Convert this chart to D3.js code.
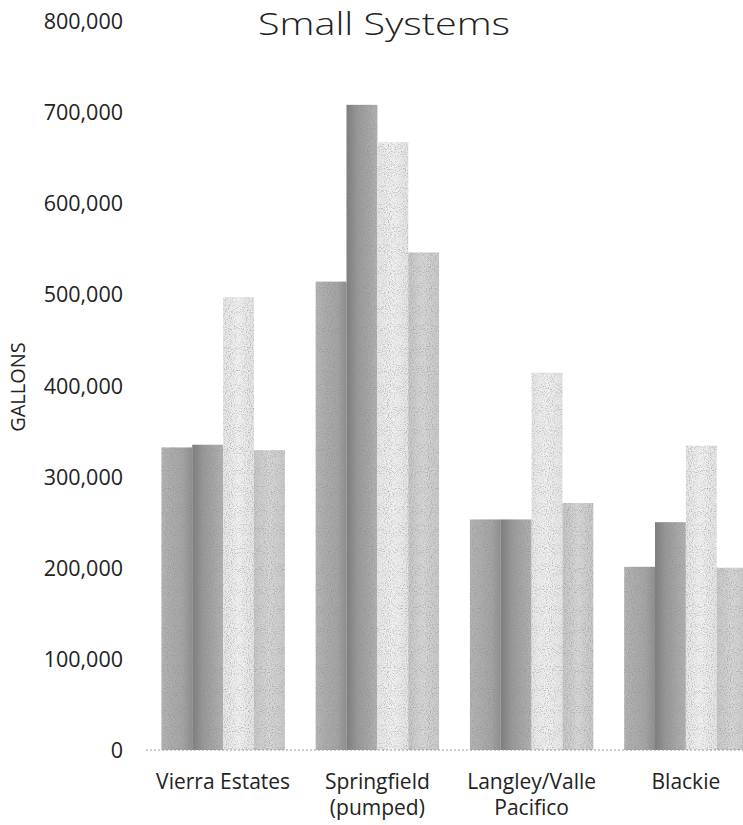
<!DOCTYPE html>
<html>
<head>
<meta charset="utf-8">
<script src="https://cdn.jsdelivr.net/npm/d3@7"></script>
<style>
  html, body { margin: 0; padding: 0; background: #fff; }
  svg { display: block; }
</style>
</head>
<body>
<div id="chart"></div>
<script>
// ---- data ----
const categories = ["Vierra Estates", "Springfield\n(pumped)", "Langley/Valle\nPacifico", "Blackie"];
const seriesNames = ["Series 1", "Series 2", "Series 3", "Series 4"];
const series1 = [332000, 514000, 253000, 201000];
const series2 = [335000, 708000, 253000, 250000];
const series3 = [497000, 667000, 414000, 334000];
const series4 = [329000, 546000, 271000, 200000];
const yTicks = [0, 100000, 200000, 300000, 400000, 500000, 600000, 700000, 800000];
const titleText = "Small Systems";
const yAxisTitle = "GALLONS";

const allSeries = [series1, series2, series3, series4];

// ---- layout ----
const W = 743, H = 825;
const svg = d3.select("#chart").append("svg").attr("width", W).attr("height", H);
const defs = svg.append("defs");

const x = d3.scaleBand().domain(categories).range([146, 763]).paddingInner(0.2).paddingOuter(0.1);
const xi = d3.scaleBand().domain(seriesNames).range([0, x.bandwidth()]);
const y = d3.scaleLinear().domain([0, 800000]).range([750, 21]);

// gradients imitating the scanned shading
const grads = [
  [["0%", "#b4b4b4"], ["70%", "#a4a4a4"], ["100%", "#8e8e8e"]],
  [["0%", "#7c7c7c"], ["35%", "#989898"], ["100%", "#b2b2b2"]],
  [["0%", "#e6e6e6"], ["50%", "#f0f0f0"], ["100%", "#e4e4e4"]],
  [["0%", "#c6c6c6"], ["50%", "#d6d6d6"], ["100%", "#c8c8c8"]]
];
grads.forEach((stops, i) => {
  const g = defs.append("linearGradient").attr("id", "g" + i)
    .attr("x1", "0%").attr("x2", "100%").attr("y1", "0%").attr("y2", "0%");
  stops.forEach(s => g.append("stop").attr("offset", s[0]).attr("stop-color", s[1]));
});

// grain filter
const f = defs.append("filter").attr("id", "grain").attr("x", 0).attr("y", 0).attr("width", 1).attr("height", 1);
f.append("feTurbulence").attr("type", "fractalNoise").attr("baseFrequency", 0.95).attr("numOctaves", 1).attr("seed", 4).attr("result", "noise");
f.append("feColorMatrix").attr("in", "noise").attr("type", "matrix")
  .attr("values", "0 0 0 0 0.25  0 0 0 0 0.25  0 0 0 0 0.25  -2.2 0 0 0 1.15").attr("result", "dots");
f.append("feComposite").attr("in", "dots").attr("in2", "SourceGraphic").attr("operator", "in").attr("result", "dotsIn");
const m = f.append("feMerge");
m.append("feMergeNode").attr("in", "SourceGraphic");
m.append("feMergeNode").attr("in", "dotsIn");

// title
svg.append("text").attr("x", 384).attr("y", 35).attr("text-anchor", "middle")
  .style("font-family", "'Open Sans'").style("font-weight", 300).style("font-size", "32px").attr("fill", "#222")
  .attr("textLength", 252).attr("lengthAdjust", "spacingAndGlyphs")
  .text(titleText);

// y axis
const yAxis = d3.axisLeft(y).tickValues(yTicks).tickSize(0).tickPadding(0).tickFormat(d3.format(","));
const yg = svg.append("g").attr("transform", "translate(123,0)").call(yAxis);
yg.select(".domain").remove();
yg.selectAll("text").style("font-family", "'Open Sans'").style("font-size", "21.5px").attr("fill", "#222").attr("dy", "0.35em");

svg.append("text").attr("transform", "translate(25,387) rotate(-90)").attr("text-anchor", "middle")
  .style("font-family", "'Open Sans'").style("font-size", "20px").attr("fill", "#222").text(yAxisTitle);

// bars
const bars = svg.append("g").attr("filter", "url(#grain)");
categories.forEach((c, ci) => {
  allSeries.forEach((s, si) => {
    bars.append("rect")
      .attr("x", x(c) + xi(seriesNames[si]))
      .attr("width", xi.bandwidth())
      .attr("y", y(s[ci]))
      .attr("height", y(0) - y(s[ci]))
      .attr("fill", "url(#g" + si + ")");
  });
});

// baseline
svg.append("line").attr("x1", 146).attr("x2", 743).attr("y1", y(0)).attr("y2", y(0))
  .attr("stroke", "#9a9a9a").attr("stroke-width", 1).attr("stroke-dasharray", "2,2");

// x axis labels
const xAxis = d3.axisBottom(x).tickSize(0).tickPadding(0);
const xg = svg.append("g").attr("transform", "translate(0," + y(0) + ")").call(xAxis);
xg.select(".domain").remove();
xg.selectAll(".tick text").each(function(d) {
  const t = d3.select(this).text(null).attr("y", 0).attr("dy", null)
    .style("font-family", "'Open Sans'").style("font-size", "21px").attr("fill", "#222");
  d.split("\n").forEach((line, li) => {
    t.append("tspan").attr("x", 0).attr("y", 39 + li * 26).text(line);
  });
});
</script>
</body>
</html>
